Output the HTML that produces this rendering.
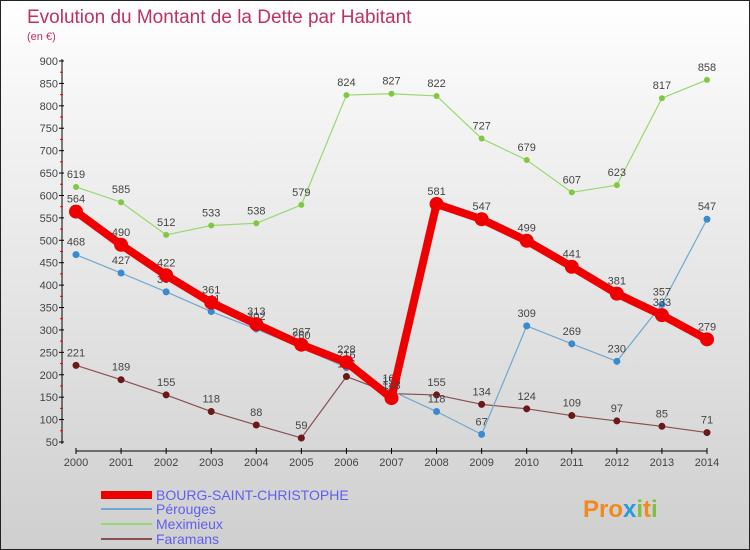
<!DOCTYPE html>
<html><head><meta charset="utf-8"><style>
body{margin:0}
#c{width:750px;height:550px;position:relative;box-sizing:border-box;border:1px solid #222;background:linear-gradient(#fff,#f4f4f4 20%,#cfcfcf);font-family:"Liberation Sans",sans-serif;overflow:hidden}
text{font-family:"Liberation Sans",sans-serif}
</style></head><body>
<div id="c">
<svg id="s" width="750" height="550">
<text x="26" y="22" font-size="19" fill="#c03060">Evolution du Montant de la Dette par Habitant</text>
<text x="26" y="39" font-size="11" fill="#c03060">(en €)</text>
<g id="axes"></g><g id="series"></g>
<g>
<rect x="100" y="490" width="51" height="8" fill="#e00"/>
<text x="155" y="499" font-size="14" fill="#6060ee">BOURG-SAINT-CHRISTOPHE</text>
<rect x="100" y="507" width="51" height="2" fill="#6fa8d0"/>
<text x="155" y="513" font-size="14" fill="#6060ee">Pérouges</text>
<rect x="100" y="522" width="51" height="2" fill="#99d870"/>
<text x="155" y="528" font-size="14" fill="#6060ee">Meximieux</text>
<rect x="100" y="537" width="51" height="2" fill="#8a5050"/>
<text x="155" y="543" font-size="14" fill="#6060ee">Faramans</text>
</g>
<g><text x="582" y="516" font-size="24" font-weight="bold" fill="#f08a20">Pro<tspan fill="#2a9ad8">x</tspan><tspan fill="#80c040">i</tspan>t<tspan fill="#80c040">i</tspan></text></g>
</svg></div>
<script>
const years=[2000,2001,2002,2003,2004,2005,2006,2007,2008,2009,2010,2011,2012,2013,2014];
const yTicks=[50,100,150,200,250,300,350,400,450,500,550,600,650,700,750,800,850,900];
const bourg=[564,490,422,361,313,267,228,148,581,547,499,441,381,333,279];
const perouges=[468,427,385,341,302,260,216,164,118,67,309,269,230,357,547];
const meximieux=[619,585,512,533,538,579,824,827,822,727,679,607,623,817,858];
const faramans=[221,189,155,118,88,59,196,158,155,134,124,109,97,85,71];
const NS="http://www.w3.org/2000/svg";
const X=i=>75+i*(706-75)/(years.length-1);
const Y=v=>441-(v-50)*(441-60)/850;
function mk(tag,attrs,parent){const e=document.createElementNS(NS,tag);for(const k in attrs)e.setAttribute(k,attrs[k]);parent.appendChild(e);return e;}
const ax=document.getElementById('axes');
let yl=mk('line',{x1:61,y1:58,x2:61,y2:443,stroke:'#000','stroke-width':1},ax);


let xl=mk('line',{x1:75,y1:450,x2:706,y2:450,stroke:'#000','stroke-width':1},ax);


yTicks.forEach((v,i)=>{
 mk('line',{x1:58,x2:63,y1:Y(v),y2:Y(v),stroke:'#000'},ax);
 if(i<yTicks.length-1)mk('line',{x1:59,x2:62,y1:Y(v+25),y2:Y(v+25),stroke:'#e00'},ax);
 const t=mk('text',{x:57,y:Y(v)+4,'font-size':11,fill:'#444','text-anchor':'end'},ax);
 t.textContent=v;
 
 
});
years.forEach((yr,i)=>{
 mk('line',{x1:X(i),x2:X(i),y1:447,y2:453,stroke:'#000'},ax);
 const t=mk('text',{x:X(i),y:465,'font-size':11,fill:'#444','text-anchor':'middle'},ax);
 t.textContent=yr;
 
 
});
const sg=document.getElementById('series');
function series(data,color,dot,lw,r,name){
 const g=mk('g',{},sg);
 
 
 const p=mk('polyline',{points:data.map((v,i)=>X(i)+','+Y(v)).join(' '),fill:'none',stroke:color,'stroke-width':lw,'stroke-linejoin':'round'},g);
 
 
 data.forEach((v,i)=>{
  const c=mk('circle',{cx:X(i),cy:Y(v),r:r,fill:dot},g);
  
  
  const t=mk('text',{x:X(i),y:Y(v)-9,'font-size':11,fill:'#444','text-anchor':'middle'},g);
  t.textContent=v;
  
  
 });
}
series(meximieux,'#99d870','#80c840',1.2,3,'meximieux');
series(faramans,'#8a5050','#6a1818',1.2,3.5,'faramans');
series(perouges,'#6fa8d0','#3a8ad0',1.2,3.5,'perouges');
series(bourg,'#ee0000','#ee0000',8,7,'bourg');
</script>
</body></html>
